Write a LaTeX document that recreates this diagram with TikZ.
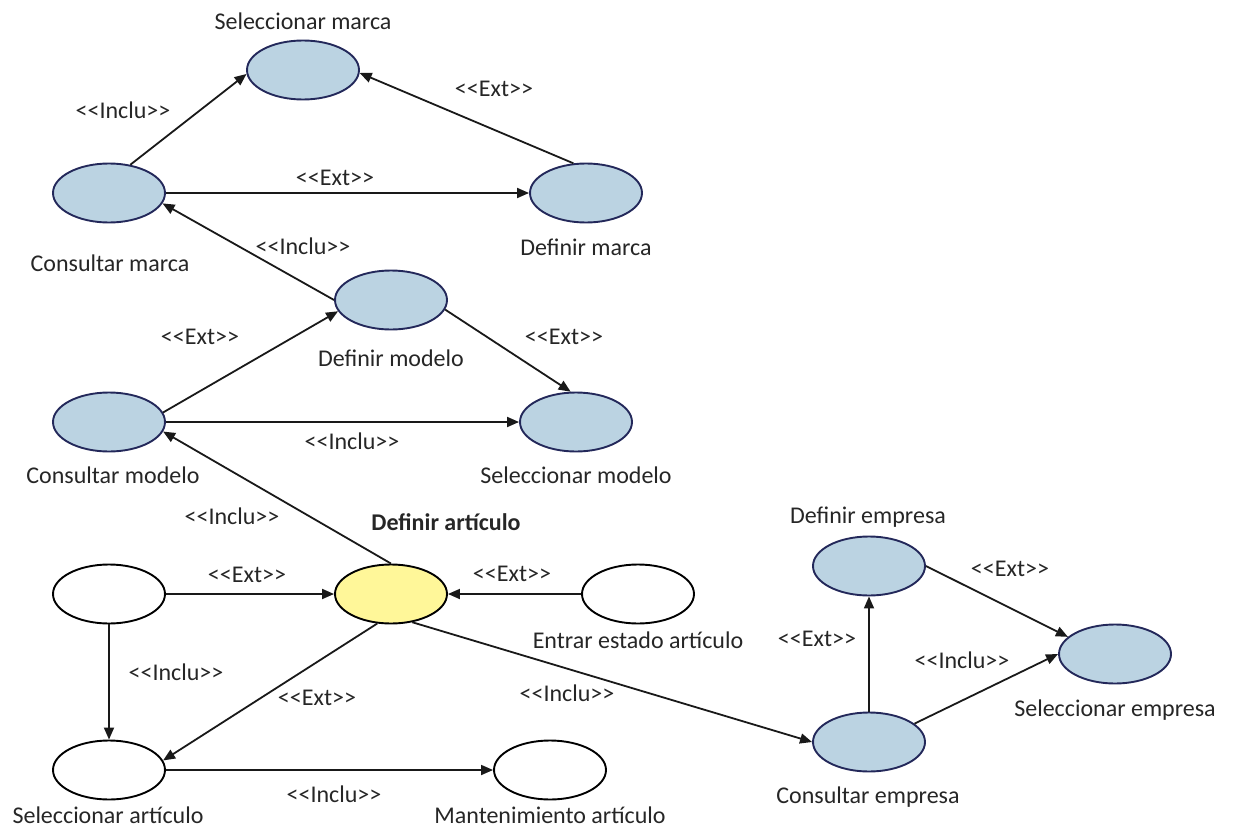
\documentclass[tikz,border=0pt]{standalone}
\usepackage{fontspec}
\setmainfont{Carlito}[Ligatures=TeXOff]
\usetikzlibrary{shapes.geometric,arrows.meta}
\definecolor{ucfill}{RGB}{187,211,226}
\definecolor{ucdraw}{RGB}{35,40,90}
\definecolor{ucyellow}{RGB}{255,247,153}
% stereotype label such as <<Ext>>
\newcommand{\stereo}[1]{<\kern0pt<#1>\kern0pt>}
\begin{document}
\begin{tikzpicture}[x=1pt,y=-1pt,
  uc/.style={ellipse,draw=ucdraw,fill=ucfill,line width=1.9pt,
    minimum width=112pt,minimum height=59pt,inner sep=0pt},
  ucw/.style={uc,draw=black,fill=white},
  ucy/.style={uc,draw=black,fill=ucyellow},
  lbl/.style={inner sep=0pt,text height=16pt,text depth=0pt,
    font=\fontsize{24}{28}\selectfont,text=black!85},
  rel/.style={line width=1.8pt,black!90,-{Triangle[length=12pt,width=10pt]}},
]
\useasboundingbox (0,0) rectangle (1234,827);

% use cases: marca
\node[uc] (sm) at (303,70) {};
\node[uc] (cm) at (109,193) {};
\node[uc] (dm) at (586,193) {};
% use cases: modelo
\node[uc] (dmo) at (391,300) {};
\node[uc] (cmo) at (109,422) {};
\node[uc] (smo) at (576,422) {};
% use cases: articulo
\node[ucy] (da) at (391,594) {};
\node[ucw] (wl) at (109,594) {};
\node[ucw] (ee) at (638,594) {};
\node[ucw] (sa) at (109,770) {};
\node[ucw] (ma) at (550,770) {};
% use cases: empresa
\node[uc] (de) at (869,566) {};
\node[uc] (se) at (1115,654) {};
\node[uc] (ce) at (869,742) {};

% names
\node[lbl] (tsm) at (303,21) {Seleccionar marca};
\node[lbl] (tcm) at (110,263) {Consultar marca};
\node[lbl] (tdm) at (586,247) {Definir marca};
\node[lbl] (tdmo) at (391,358) {Definir modelo};
\node[lbl] (tcmo) at (113,475) {Consultar modelo};
\node[lbl] (tsmo) at (576,475) {Seleccionar modelo};
\node[lbl,font=\fontsize{24}{28}\selectfont\bfseries] (tda) at (446,522) {Definir artículo};
\node[lbl] (tee) at (638,640) {Entrar estado artículo};
\node[lbl] (tsa) at (108,815) {Seleccionar artículo};
\node[lbl] (tma) at (550,815) {Mantenimiento artículo};
\node[lbl] (tde) at (868,515) {Definir empresa};
\node[lbl] (tse) at (1115,708) {Seleccionar empresa};
\node[lbl] (tce) at (868,795) {Consultar empresa};

% relations
\draw[rel] (cm.53) -- (sm.184);
\draw[rel] (cm.east) -- (dm.west);
\draw[rel] (dm.113) -- (sm.-3);
\draw[rel] (dmo.west) -- (cm.-11);
\draw[rel] (cmo.10) -- (dmo.192);
\draw[rel] (cmo.east) -- (smo.west);
\draw[rel] (dmo.-10) -- (smo.100);
\draw[rel] (da.north) -- (cmo.-10);
\draw[rel] (wl.east) -- (da.west);
\draw[rel] (ee.west) -- (da.east);
\draw[rel] (wl.south) -- (sa.north);
\draw[rel] (da.245) -- (sa.10);
\draw[rel] (sa.east) -- (ma.west);
\draw[rel] (da.-53) -- (ce.west);
\draw[rel] (ce.north) -- (de.south);
\draw[rel] (de.east) -- (se.160);
\draw[rel] (ce.22) -- (se.west);

% stereotypes
\node[lbl] (l1) at (123,110) {\stereo{Inclu}};
\node[lbl] (l2) at (335,177) {\stereo{Ext}};
\node[lbl] (l3) at (494,88) {\stereo{Ext}};
\node[lbl] (l4) at (303,246) {\stereo{Inclu}};
\node[lbl] (l5) at (200,336) {\stereo{Ext}};
\node[lbl] (l6) at (564,336) {\stereo{Ext}};
\node[lbl] (l7) at (352,441) {\stereo{Inclu}};
\node[lbl] (l8) at (232,516) {\stereo{Inclu}};
\node[lbl] (l9) at (247,574) {\stereo{Ext}};
\node[lbl] (l10) at (512,573) {\stereo{Ext}};
\node[lbl] (l11) at (176,672) {\stereo{Inclu}};
\node[lbl] (l12) at (317,697) {\stereo{Ext}};
\node[lbl] (l13) at (567,693) {\stereo{Inclu}};
\node[lbl] (l14) at (334,794) {\stereo{Inclu}};
\node[lbl] (l15) at (1010,568) {\stereo{Ext}};
\node[lbl] (l16) at (817,638) {\stereo{Ext}};
\node[lbl] (l17) at (962,660) {\stereo{Inclu}};
\end{tikzpicture}
\end{document}
